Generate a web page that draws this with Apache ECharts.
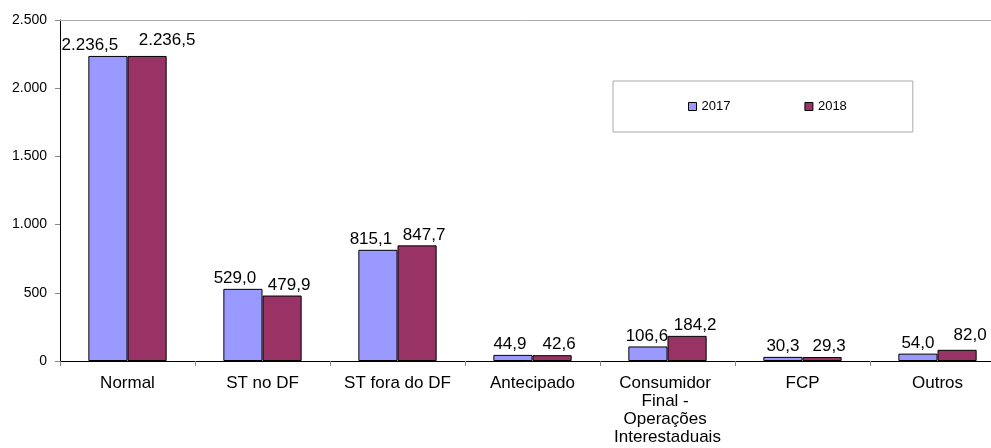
<!DOCTYPE html>
<html>
<head>
<meta charset="utf-8">
<script src="https://cdn.jsdelivr.net/npm/echarts@6/dist/echarts.min.js"></script>
<style>
  html, body { margin: 0; padding: 0; background: #fff; }
  #chart { width: 991px; height: 448px; }
</style>
</head>
<body>
<div id="chart"></div>
<script>
// Arrecadação por tipo (valores em milhões)
const categories = ['Normal', 'ST no DF', 'ST fora do DF', 'Antecipado',
  'Consumidor Final - Operações Interestaduais', 'FCP', 'Outros'];
const values2017 = [2236.5, 529.0, 815.1, 44.9, 106.6, 30.3, 54.0];
const values2018 = [2236.5, 479.9, 847.7, 42.6, 184.2, 29.3, 82.0];
const seriesNames = ['2017', '2018'];
const yTicks = [0, 500, 1000, 1500, 2000, 2500];

// Small label nudges [dx, dy] in px so neighbouring value labels don't collide
const labelNudge2017 = [[-18, 0], [-8, 0], [-7, 0], [-3, 0], [-1, 0], [0, 0], [0, 0]];
const labelNudge2018 = [[20, -5], [7, 0], [7, 0], [7, 0], [8, 0], [7, 0], [13, -4]];

const FONT = '"Liberation Sans", Arial, sans-serif';

// Formato brasileiro: ponto para milhar, vírgula para decimal
function fmt(v, decimals) {
  const parts = v.toFixed(decimals).split('.');
  parts[0] = parts[0].replace(/\B(?=(\d{3})+(?!\d))/g, '.');
  return parts.length > 1 ? parts[0] + ',' + parts[1] : parts[0];
}

const chart = echarts.init(document.getElementById('chart'), null, { renderer: 'canvas' });

function barSeries(name, values, nudges, color) {
  return {
    name: name,
    type: 'bar',
    xAxisIndex: 0,
    data: values.map((v, i) => ({ value: v, label: { offset: nudges[i] } })),
    barGap: '0%',
    barCategoryGap: '42%',
    itemStyle: { color: color, borderColor: '#000', borderWidth: 1 },
    label: {
      show: true,
      position: 'top',
      distance: 2,
      color: '#000',
      fontFamily: FONT,
      fontSize: 17,
      formatter: p => fmt(p.value, 1)
    }
  };
}

chart.setOption({
  animation: false,
  backgroundColor: '#fff',
  textStyle: { fontFamily: FONT },
  grid: { left: 60, top: 20, width: 945, height: 341, containLabel: false, outerBoundsMode: 'none' },
  legend: {
    left: 613,
    top: 81,
    padding: [19, 66, 19, 75],
    itemGap: 74,
    itemWidth: 8,
    itemHeight: 8,
    itemStyle: { borderColor: '#000', borderWidth: 1 },
    icon: 'rect',
    borderColor: '#aaa',
    borderWidth: 1,
    backgroundColor: '#fff',
    textStyle: { fontFamily: FONT, fontSize: 13, color: '#000' },
    data: seriesNames
  },
  xAxis: [{
    type: 'category',
    data: categories,
    axisLine: { lineStyle: { color: '#000', width: 1 } },
    axisTick: { show: true, length: 5, lineStyle: { color: '#888' } },
    axisLabel: {
      color: '#000',
      fontFamily: FONT,
      fontSize: 17,
      lineHeight: 18,
      margin: 13,
      width: 118,
      overflow: 'break',
      interval: 0
    }
  }, {
    // plot-area top edge
    type: 'category',
    position: 'top',
    data: categories,
    axisLine: { show: true, lineStyle: { color: '#aaa', width: 1 } },
    axisTick: { show: false },
    axisLabel: { show: false },
    splitLine: { show: false }
  }],
  yAxis: {
    type: 'value',
    min: yTicks[0],
    max: yTicks[yTicks.length - 1],
    interval: 500,
    axisLine: { show: true, lineStyle: { color: '#000', width: 1 } },
    axisTick: { show: true, length: 5, lineStyle: { color: '#888' } },
    axisLabel: {
      color: '#000',
      fontFamily: FONT,
      fontSize: 14,
      margin: 13,
      formatter: v => fmt(v, 0)
    },
    splitLine: { show: false }
  },
  series: [
    barSeries(seriesNames[0], values2017, labelNudge2017, '#9999FF'),
    barSeries(seriesNames[1], values2018, labelNudge2018, '#993366')
  ]
});
</script>
</body>
</html>
